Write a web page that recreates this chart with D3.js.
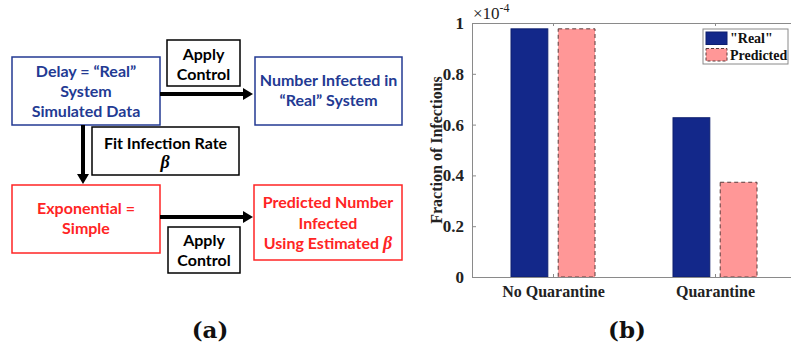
<!DOCTYPE html>
<html>
<head>
<meta charset="utf-8">
<script src="https://cdn.jsdelivr.net/npm/d3@7"></script>
<style>
  body { margin: 0; background: #fff; }
  svg { display: block; }
</style>
</head>
<body>
<div id="chart"></div>
<script>
// bar chart data (b)
const categories = ['No Quarantine', 'Quarantine'];
const series = ['"Real"', 'Predicted'];
const realValues = [0.977e-4, 0.627e-4];
const predictedValues = [0.977e-4, 0.373e-4];
const yTicks = [0, 0.2e-4, 0.4e-4, 0.6e-4, 0.8e-4, 1e-4];
const yTickLabels = ['0', '0.2', '0.4', '0.6', '0.8', '1'];

// flow diagram text (a)
const realBoxLines = ['Delay = \u201cReal\u201d', 'System', 'Simulated Data'];
const realOutLines = ['Number Infected in', '\u201cReal\u201d System'];
const simpleBoxLines = ['Exponential =', 'Simple'];
const predOutLines = ['Predicted Number', 'Infected', 'Using Estimated '];
const controlLines = ['Apply', 'Control'];
const fitLines = ['Fit Infection Rate'];

const width = 791, height = 358;
const svg = d3.select('#chart').append('svg')
  .attr('width', width).attr('height', height);

const blue = '#233a93', red = '#ff2424';
const sans = 'Lato, "Open Sans", sans-serif';
const serif = '"Liberation Serif", "Times New Roman", serif';

// ---------- (a) diagram ----------
const diag = svg.append('g');

function box(x, y, w, h, stroke, lines, color, firstBase, lineGap, opts) {
  diag.append('rect')
    .attr('x', x).attr('y', y).attr('width', w).attr('height', h)
    .attr('fill', 'none').attr('stroke', stroke).attr('stroke-width', 1.5);
  const t = diag.append('g');
  lines.forEach((l, i) => {
    const txt = t.append('text')
      .attr('x', x + w / 2)
      .attr('y', firstBase + i * lineGap)
      .attr('text-anchor', 'middle')
      .style('font-family', sans)
      .style('font-weight', 700)
      .style('font-size', '16px')
      .style('fill', color)
      .text(l);
    if (opts && opts.betaLast && i === lines.length - 1) {
      txt.append('tspan')
        .style('font-family', serif)
        .style('font-style', 'italic')
        .style('font-size', '18px')
        .text('\u03b2');
    }
  });
}

box(12, 57, 148, 68, blue, realBoxLines, blue, 77, 20);
box(255, 57, 147, 68, blue, realOutLines, blue, 86, 20);
box(12, 185, 148, 68, red, simpleBoxLines, red, 214, 20);
box(254, 185, 148, 75, red, predOutLines, red, 208, 20.5, { betaLast: true });
box(167, 40, 73, 46, '#000', controlLines, '#000', 60, 20);
box(168, 227, 72, 46, '#000', controlLines, '#000', 246, 20);
box(92, 127, 147, 48, '#000', fitLines, '#000', 149, 20);
diag.append('text')
  .attr('x', 165).attr('y', 168)
  .attr('text-anchor', 'middle')
  .style('font-family', serif)
  .style('font-style', 'italic')
  .style('font-weight', 700)
  .style('font-size', '18px')
  .text('\u03b2');

function arrow(x1, y1, x2, y2) {
  const horizontal = y1 === y2;
  const hl = 10, hw = 6;
  if (horizontal) {
    diag.append('line').attr('x1', x1).attr('y1', y1).attr('x2', x2 - hl).attr('y2', y2)
      .attr('stroke', '#000').attr('stroke-width', 4);
    diag.append('path')
      .attr('d', `M${x2},${y2}L${x2 - hl},${y2 - hw}L${x2 - hl},${y2 + hw}Z`)
      .attr('fill', '#000');
  } else {
    diag.append('line').attr('x1', x1).attr('y1', y1).attr('x2', x2).attr('y2', y2 - hl)
      .attr('stroke', '#000').attr('stroke-width', 4);
    diag.append('path')
      .attr('d', `M${x2},${y2}L${x2 - hw},${y2 - hl}L${x2 + hw},${y2 - hl}Z`)
      .attr('fill', '#000');
  }
}
arrow(160, 94, 253, 94);
arrow(160, 217, 253, 217);
arrow(83, 125, 83, 184);

// ---------- (b) bar chart ----------
const x0 = 472, x1 = 796, yTop = 23, yBot = 277;
const xScale = d3.scaleLinear().domain([0.5, categories.length + 0.5]).range([x0, x1]);
const inner = d3.scaleBand().domain(series).range([-42, 42]).paddingInner(0.22);
const yScale = d3.scaleLinear().domain([0, 1e-4]).range([yBot, yTop]);

const chart = svg.append('g');
const barData = [];
categories.forEach((c, i) => {
  barData.push({ cat: i + 1, s: series[0], v: realValues[i] });
  barData.push({ cat: i + 1, s: series[1], v: predictedValues[i] });
});

chart.selectAll('rect.bar')
  .data(barData)
  .enter()
  .append('rect')
  .attr('class', 'bar')
  .attr('x', d => xScale(d.cat) + inner(d.s))
  .attr('width', inner.bandwidth())
  .attr('y', d => yScale(d.v))
  .attr('height', d => yBot - yScale(d.v))
  .attr('fill', d => d.s === series[0] ? '#13288a' : '#ff9797')
  .attr('stroke', d => d.s === series[0] ? '#0e1f6e' : '#5a3b3b')
  .attr('stroke-width', 1)
  .attr('stroke-dasharray', d => d.s === series[0] ? null : '4,3');

// axes box
const axisColor = '#8a8a8a';
const yAxis = chart.append('g').attr('transform', `translate(${x0},0)`)
  .call(d3.axisLeft(yScale).tickValues(yTicks).tickSize(-4).tickPadding(8)
    .tickFormat((d, i) => yTickLabels[i]));
const yAxisR = chart.append('g').attr('transform', `translate(${x1},0)`)
  .call(d3.axisRight(yScale).tickValues(yTicks).tickSize(-4).tickFormat(''));
const xAxis = chart.append('g').attr('transform', `translate(0,${yBot})`)
  .call(d3.axisBottom(xScale).tickValues([1, 2]).tickSize(-3).tickPadding(9)
    .tickFormat((d, i) => categories[i]));
const xAxisT = chart.append('g').attr('transform', `translate(0,${yTop})`)
  .call(d3.axisTop(xScale).tickValues([1, 2]).tickSize(-3).tickFormat(''));

[yAxis, yAxisR, xAxis, xAxisT].forEach(a => {
  a.select('.domain').attr('stroke', axisColor).attr('stroke-width', 1);
  a.selectAll('.tick line').attr('stroke', axisColor);
  a.selectAll('.tick text')
    .style('font-family', serif)
    .style('font-weight', 700)
    .style('font-size', '16px')
    .attr('fill', '#222');
});
yAxis.selectAll('.tick text').style('font-size', '17px');

// exponent label
const expo = chart.append('text')
  .attr('x', 473).attr('y', 19)
  .style('font-family', serif)
  .style('font-size', '17px')
  .attr('fill', '#222')
  .text('\u00d710');
expo.append('tspan').attr('dy', -7).style('font-size', '12px').text('-4');

// y label
chart.append('text')
  .attr('transform', `translate(442,${(yTop + yBot) / 2}) rotate(-90)`)
  .attr('text-anchor', 'middle')
  .style('font-family', serif)
  .style('font-weight', 700)
  .style('font-size', '16px')
  .attr('fill', '#222')
  .text('Fraction of Infectious');

// legend
const lg = chart.append('g').attr('transform', 'translate(703,29)');
lg.append('rect').attr('width', 85).attr('height', 35)
  .attr('fill', '#fff').attr('stroke', axisColor).attr('stroke-width', 1);
series.forEach((s, i) => {
  lg.append('rect')
    .attr('x', 3).attr('y', 3 + i * 16.5).attr('width', 21).attr('height', 12.5)
    .attr('fill', i === 0 ? '#13288a' : '#ff9797')
    .attr('stroke', i === 0 ? '#0e1f6e' : '#5a3b3b')
    .attr('stroke-dasharray', i === 0 ? null : '3,2');
  lg.append('text')
    .attr('x', 27).attr('y', 14 + i * 16.5)
    .style('font-family', serif)
    .style('font-weight', 700)
    .style('font-size', '14px')
    .attr('fill', '#111')
    .text(s);
});

// captions
[['(a)', 210], ['(b)', 627]].forEach(c => {
  svg.append('text')
    .attr('x', c[1]).attr('y', 338)
    .attr('text-anchor', 'middle')
    .style('font-family', '"DejaVu Serif", serif')
    .style('font-weight', 700)
    .style('font-size', '23px')
    .attr('fill', '#111')
    .text(c[0]);
});
</script>
</body>
</html>
